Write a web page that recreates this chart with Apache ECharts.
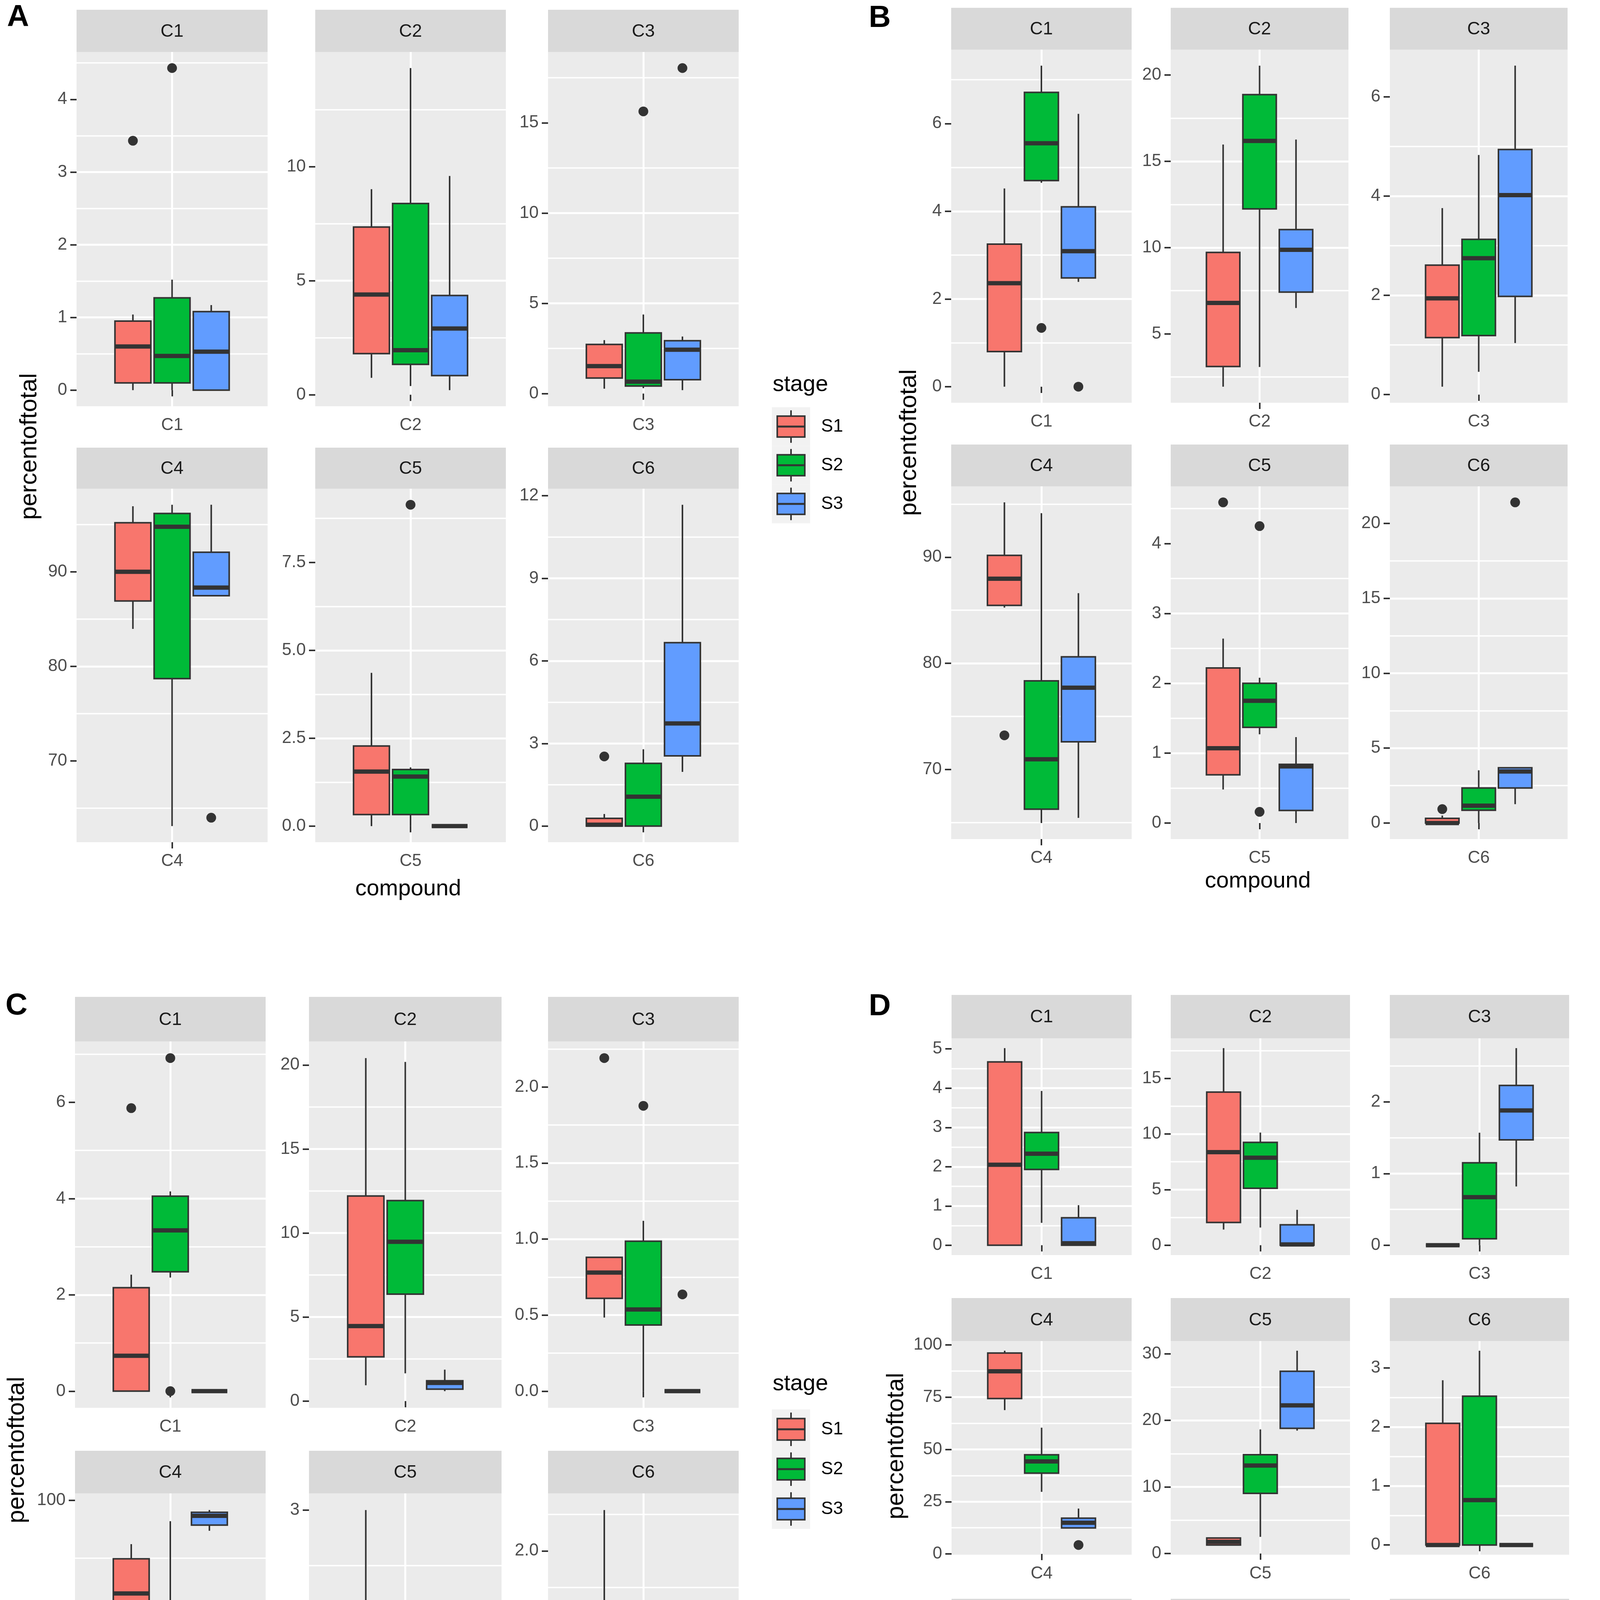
<!DOCTYPE html>
<html>
<head>
<meta charset="utf-8">
<title>percentoftotal by compound and stage</title>
<script src="https://cdn.jsdelivr.net/npm/echarts@6.0.0/dist/echarts.min.js"></script>
<style>
  html, body { margin: 0; padding: 0; background: #ffffff; }
  #chart { width: 4318px; height: 4929px; }
</style>
</head>
<body>
<div id="chart"></div>
<script>
var stages = ['S1', 'S2', 'S3'];

// per compound: one [low whisker, q1, median, q3, high whisker] per stage (S1, S2, S3)
var compoundsA = ['C1', 'C2', 'C3', 'C4', 'C5', 'C6'];
var boxesA = [
  [[0, 0.10, 0.60, 0.95, 1.04], [0, 0.10, 0.47, 1.27, 1.52], [0, 0, 0.53, 1.08, 1.17]],
  [[0.74, 1.80, 4.39, 7.35, 9.01], [0.38, 1.33, 1.95, 8.38, 14.32], [0.20, 0.84, 2.90, 4.35, 9.59]],
  [[0.27, 0.86, 1.52, 2.72, 2.96], [0.30, 0.42, 0.66, 3.36, 4.38], [0.19, 0.77, 2.43, 2.93, 3.16]],
  [[83.96, 86.91, 90.0, 95.19, 96.93], [63.1, 78.7, 94.76, 96.17, 97.09], [87.47, 87.47, 88.33, 92.07, 97.09]],
  [[0, 0.33, 1.55, 2.28, 4.36], [0, 0.33, 1.41, 1.61, 1.67], [0, 0, 0, 0, 0]],
  [[0, 0, 0.05, 0.28, 0.44], [0, 0, 1.07, 2.28, 2.79], [1.97, 2.55, 3.73, 6.66, 11.67]]
];
// [stage index, value]
var outliersA = [
  [[0, 3.43], [1, 4.43]],
  [],
  [[1, 15.63], [2, 18.03]],
  [[2, 63.99]],
  [[1, 9.14]],
  [[0, 2.53]]
];
var ticksA = [
  ['0', '1', '2', '3', '4'],
  ['0', '5', '10'],
  ['0', '5', '10', '15'],
  ['70', '80', '90'],
  ['0.0', '2.5', '5.0', '7.5'],
  ['0', '3', '6', '9', '12']
];

var compoundsB = ['C1', 'C2', 'C3', 'C4', 'C5', 'C6'];
var boxesB = [
  [[0, 0.80, 2.36, 3.25, 4.52], [4.65, 4.70, 5.55, 6.71, 7.32], [2.39, 2.48, 3.09, 4.10, 6.22]],
  [[1.94, 3.11, 6.79, 9.72, 15.97], [3.08, 12.24, 16.18, 18.86, 20.54], [6.50, 7.42, 9.87, 11.04, 16.26]],
  [[0.16, 1.15, 1.94, 2.61, 3.76], [0.46, 1.19, 2.75, 3.13, 4.83], [1.04, 1.98, 4.02, 4.94, 6.63]],
  [[85.25, 85.46, 87.97, 90.17, 95.16], [64.96, 66.26, 70.96, 78.35, 94.14], [65.45, 72.61, 77.71, 80.61, 86.61]],
  [[0.48, 0.69, 1.07, 2.22, 2.64], [1.27, 1.37, 1.75, 2.00, 2.08], [0, 0.18, 0.81, 0.84, 1.23]],
  [[0, 0, 0, 0.31, 0.50], [0, 0.85, 1.16, 2.34, 3.52], [1.26, 2.34, 3.44, 3.69, 3.69]]
];
var outliersB = [
  [[1, 1.34], [2, 0]],
  [],
  [],
  [[0, 73.22]],
  [[0, 4.59], [1, 4.25], [1, 0.16]],
  [[0, 0.93], [2, 21.41]]
];
var ticksB = [
  ['0', '2', '4', '6'],
  ['5', '10', '15', '20'],
  ['0', '2', '4', '6'],
  ['70', '80', '90'],
  ['0', '1', '2', '3', '4'],
  ['0', '5', '10', '15', '20']
];

var compoundsC = ['C1', 'C2', 'C3', 'C4', 'C5', 'C6'];
var boxesC = [
  [[0, 0, 0.735, 2.15, 2.42], [2.36, 2.48, 3.34, 4.05, 4.15], [0, 0, 0, 0, 0]],
  [[0.94, 2.63, 4.46, 12.20, 20.41], [1.65, 6.36, 9.48, 11.93, 20.18], [0.59, 0.71, 1.08, 1.21, 1.87]],
  [[0.484, 0.61, 0.78, 0.88, 0.88], [0, 0.435, 0.537, 0.986, 1.12], [0, 0, 0, 0, 0]],
  [[72.54, 80.70, 91.93, 94.94, 96.21], [70.28, 82.44, 85.62, 90.52, 98.2], [97.37, 97.86, 98.67, 98.97, 99.17]],
  [[0, 0.362, 1.524, 1.921, 3.0], [0, 0, 0.124, 0.512, 0.679], [0, 0, 0, 0, 0]],
  [[0, 0, 0, 1.051, 2.28], [0, 0, 0, 0.459, 1.115], [0.175, 0.28, 0.428, 0.721, 0.877]]
];
var outliersC = [
  [[0, 5.88], [1, 6.92], [1, 0]],
  [],
  [[0, 2.19], [1, 1.876], [2, 0.636]],
  [],
  [],
  []
];
var ticksC = [
  ['0', '2', '4', '6'],
  ['0', '5', '10', '15', '20'],
  ['0.0', '0.5', '1.0', '1.5', '2.0'],
  ['70', '80', '90', '100'],
  ['0', '1', '2', '3'],
  ['0.0', '0.5', '1.0', '1.5', '2.0']
];

var compoundsD = ['C1', 'C2', 'C3', 'C4', 'C5', 'C6', 'C7', 'C8', 'C9'];
var boxesD = [
  [[0, 0, 2.05, 4.67, 5.02], [0.57, 1.93, 2.33, 2.87, 3.93], [0, 0, 0.05, 0.70, 1.02]],
  [[1.41, 2.05, 8.37, 13.77, 17.72], [1.59, 5.12, 7.87, 9.25, 10.13], [0, 0, 0.07, 1.84, 3.18]],
  [[0, 0, 0, 0, 0], [0, 0.09, 0.67, 1.15, 1.57], [0.82, 1.47, 1.88, 2.23, 2.75]],
  [[68.8, 74.35, 87.36, 96.1, 97.2], [29.7, 38.66, 44.24, 47.4, 60.4], [12.45, 12.45, 14.9, 17.1, 21.7]],
  [[1.28, 1.28, 1.75, 2.33, 2.33], [2.5, 9.03, 13.22, 14.85, 18.64], [18.46, 18.81, 22.25, 27.37, 30.46]],
  [[0, 0, 0, 2.06, 2.79], [0, 0, 0.76, 2.52, 3.29], [0, 0, 0, 0, 0]],
  [[0, 0, 0, 0, 0], [15.7, 18.39, 21.76, 22.95, 23.58], [23.73, 26.27, 27.05, 34.97, 43.1]],
  [[0, 0, 0, 1.1, 1.93], [1.93, 5.31, 7.87, 10.77, 17.34], [10.14, 14.22, 18.2, 24.33, 30.9]],
  [[0, 0, 0, 0, 0], [0, 1.96, 4.47, 6.65, 6.97], [5.63, 7.5, 8.9, 10.16, 13.27]]
];
var outliersD = [
  [],
  [],
  [],
  [[2, 4.28]],
  [],
  [],
  [[0, 5.8]],
  [],
  []
];
var ticksD = [
  ['0', '1', '2', '3', '4', '5'],
  ['0', '5', '10', '15'],
  ['0', '1', '2'],
  ['0', '25', '50', '75', '100'],
  ['0', '10', '20', '30'],
  ['0', '1', '2', '3'],
  ['0', '10', '20', '30', '40'],
  ['0', '10', '20', '30'],
  ['0', '5', '10']
];

var stageColors = ['#F8766D', '#00BA38', '#619CFF'];
var dodge = [-0.205, 0, 0.205];
var boxFrac = 0.188;
var fontFam = '"Liberation Sans", Arial, sans-serif';

// facet layout, pixels
var panels = [
  {
    letter: 'A', letterPos: [18, 6],
    compounds: compoundsA, boxes: boxesA, outliers: outliersA, ticks: ticksA,
    cols: [[196, 685], [807, 1295], [1403, 1891]],
    rows: [[25, 133, 1040], [1146, 1251, 2156]],
    yTitle: [76, 1143], xTitle: [1045, 2276],
    legend: { x: 1976, w: 98, h: 99, title: 985, keys: [1092, 1191, 1290], label: 2102 }
  },
  {
    letter: 'B', letterPos: [2224, 8],
    compounds: compoundsB, boxes: boxesB, outliers: outliersB, ticks: ticksB,
    cols: [[2435, 2897], [2997, 3452], [3558, 4013]],
    rows: [[20, 127, 1031], [1138, 1245, 2148]],
    yTitle: [2328, 1133], xTitle: [3220, 2256],
    legend: { x: 4136, w: 92, h: 96, title: 989, keys: [1088, 1184, 1280], label: 4256 }
  },
  {
    letter: 'C', letterPos: [14, 2536],
    compounds: compoundsC, boxes: boxesC, outliers: outliersC, ticks: ticksC,
    cols: [[192, 680], [791, 1284], [1403, 1891]],
    rows: [[2552, 2666, 3604], [3714, 3823, 4761]],
    yTitle: [44, 3712], xTitle: [1045, 4886],
    legend: { x: 1976, w: 98, h: 102, title: 3543, keys: [3659, 3761, 3863], label: 2102 }
  },
  {
    letter: 'D', letterPos: [2224, 2538],
    compounds: compoundsD, boxes: boxesD, outliers: outliersD, ticks: ticksD,
    cols: [[2436, 2897], [2997, 3456], [3558, 4017]],
    rows: [[2547, 2658, 3213], [3323, 3433, 3980], [4093, 4203, 4757]],
    yTitle: [2295, 3702], xTitle: [3227, 4882],
    legend: { x: 4096, w: 92, h: 102, title: 3539, keys: [3652, 3754, 3857], label: 4213 }
  }
];

function centerOnly(index) {
  return index === 1;
}

function stageX(api, s) {
  var left = api.coord([0, 0])[0];
  var right = api.coord([2, 0])[0];
  var w = right - left;
  return { xc: (left + right) / 2 + dodge[s] * w, hw: boxFrac * w / 2 };
}

function renderBox(params, api) {
  var s = api.value(6);
  var p = stageX(api, s);
  var y = [];
  for (var k = 1; k <= 5; k++) {
    y.push(api.coord([1, api.value(k)])[1]);
  }
  var line = { stroke: '#333333', lineWidth: 4 };
  return {
    type: 'group',
    children: [
      { type: 'line', shape: { x1: p.xc, y1: y[3], x2: p.xc, y2: y[4] }, style: line },
      { type: 'line', shape: { x1: p.xc, y1: y[1], x2: p.xc, y2: y[0] }, style: line },
      {
        type: 'rect',
        shape: { x: p.xc - p.hw, y: y[3], width: p.hw * 2, height: y[1] - y[3] },
        style: { fill: stageColors[s], stroke: '#333333', lineWidth: 4 }
      },
      {
        type: 'line',
        shape: { x1: p.xc - p.hw, y1: y[2], x2: p.xc + p.hw, y2: y[2] },
        style: { stroke: '#333333', lineWidth: 11 }
      }
    ]
  };
}

function renderOutlier(params, api) {
  var p = stageX(api, api.value(2));
  var pt = api.coord([1, api.value(1)]);
  return {
    type: 'circle',
    shape: { cx: p.xc, cy: pt[1], r: 12.5 },
    style: { fill: '#333333' }
  };
}

function text(str, x, y, size, color, align, extra) {
  var el = {
    type: 'text', x: x, y: y, silent: true,
    style: {
      text: str, font: size + 'px ' + fontFam, fill: color,
      textAlign: align, align: align,
      textVerticalAlign: 'middle', verticalAlign: 'middle'
    }
  };
  if (extra) {
    for (var k in extra) el[k] = extra[k];
  }
  return el;
}

var grids = [], xAxes = [], yAxes = [], series = [], graphics = [];

panels.forEach(function (p) {
  graphics.push({
    type: 'text', x: p.letterPos[0], y: p.letterPos[1], silent: true,
    style: { text: p.letter, font: 'bold 78px ' + fontFam, fill: '#000000', textVerticalAlign: 'top', verticalAlign: 'top' }
  });

  p.compounds.forEach(function (name, i) {
    var col = p.cols[i % 3];
    var row = p.rows[Math.floor(i / 3)];
    var g = grids.length;

    var labels = p.ticks[i];
    var tickVals = labels.map(Number);
    var step = tickVals[1] - tickVals[0];

    var all = [];
    p.boxes[i].forEach(function (b) { all = all.concat(b); });
    p.outliers[i].forEach(function (o) { all.push(o[1]); });
    var dmin = Math.min.apply(null, all);
    var dmax = Math.max.apply(null, all);
    var pad = (dmax - dmin) * 0.05;

    grids.push({
      left: col[0], top: row[1], width: col[1] - col[0], height: row[2] - row[1],
      show: true, backgroundColor: '#EBEBEB', borderWidth: 0,
      containLabel: false, outerBoundsMode: 'none'
    });

    xAxes.push({
      gridIndex: g, type: 'category', data: ['<', name, '>'], boundaryGap: false,
      axisLine: { show: false },
      axisTick: { show: true, interval: centerOnly, length: 16, lineStyle: { color: '#333333', width: 4 } },
      axisLabel: { interval: centerOnly, color: '#4D4D4D', fontSize: 44, fontFamily: fontFam, margin: 27 },
      splitLine: { show: true, interval: centerOnly, lineStyle: { color: '#ffffff', width: 5 } }
    });

    yAxes.push({
      gridIndex: g, type: 'value', min: dmin - pad, max: dmax + pad,
      minInterval: step, maxInterval: step,
      axisLine: { show: false },
      axisTick: { show: true, length: 16, lineStyle: { color: '#333333', width: 4 }, customValues: tickVals },
      axisLabel: {
        color: '#4D4D4D', fontSize: 44, fontFamily: fontFam, margin: 24,
        customValues: tickVals,
        formatter: function (v) {
          for (var k = 0; k < tickVals.length; k++) {
            if (Math.abs(tickVals[k] - v) < 1e-9) return labels[k];
          }
          return '';
        }
      },
      splitLine: { show: true, showMinLine: false, showMaxLine: false, lineStyle: { color: '#ffffff', width: 5 } },
      minorTick: { show: false, splitNumber: 2 },
      minorSplitLine: { show: true, lineStyle: { color: '#ffffff', width: 3.5 } }
    });

    series.push({
      type: 'custom', name: p.letter + name, xAxisIndex: g, yAxisIndex: g,
      renderItem: renderBox, silent: true,
      encode: { x: 0, y: [1, 2, 3, 4, 5] },
      data: p.boxes[i].map(function (b, s) { return [1, b[0], b[1], b[2], b[3], b[4], s]; })
    });

    if (p.outliers[i].length) {
      series.push({
        type: 'custom', name: p.letter + name + ' outliers', xAxisIndex: g, yAxisIndex: g,
        renderItem: renderOutlier, silent: true,
        encode: { x: 0, y: 1 },
        data: p.outliers[i].map(function (o) { return [1, o[1], o[0]]; })
      });
    }

    // facet strip
    graphics.push({
      type: 'rect', silent: true,
      shape: { x: col[0], y: row[0], width: col[1] - col[0], height: row[1] - row[0] },
      style: { fill: '#D9D9D9' }
    });
    graphics.push(text(name, (col[0] + col[1]) / 2, (row[0] + row[1]) / 2 + 2, 46, '#1A1A1A', 'center'));
  });

  graphics.push(text('percentoftotal', p.yTitle[0], p.yTitle[1], 62, '#000000', 'center', { rotation: Math.PI / 2 }));
  graphics.push(text('compound', p.xTitle[0], p.xTitle[1], 58, '#000000', 'center'));

  // legend
  var lg = p.legend;
  graphics.push(text('stage', lg.x + 2, lg.title, 58, '#000000', 'left'));
  stages.forEach(function (st, s) {
    var cy = lg.keys[s];
    var cx = lg.x + lg.w / 2;
    var bw = lg.w * 0.72;
    graphics.push({
      type: 'rect', silent: true,
      shape: { x: lg.x, y: cy - lg.h / 2, width: lg.w, height: lg.h },
      style: { fill: '#F2F2F2' }
    });
    graphics.push({
      type: 'line', silent: true,
      shape: { x1: cx, y1: cy - lg.h * 0.42, x2: cx, y2: cy + lg.h * 0.42 },
      style: { stroke: '#333333', lineWidth: 4 }
    });
    graphics.push({
      type: 'rect', silent: true,
      shape: { x: cx - bw / 2, y: cy - lg.h * 0.27, width: bw, height: lg.h * 0.54 },
      style: { fill: stageColors[s], stroke: '#333333', lineWidth: 4 }
    });
    graphics.push({
      type: 'line', silent: true,
      shape: { x1: cx - bw / 2, y1: cy, x2: cx + bw / 2, y2: cy },
      style: { stroke: '#333333', lineWidth: 5 }
    });
    graphics.push(text(st, lg.label, cy, 46, '#000000', 'left'));
  });
});

var myChart = echarts.init(document.getElementById('chart'), null, { renderer: 'canvas' });
myChart.setOption({
  backgroundColor: '#ffffff',
  animation: false,
  grid: grids,
  xAxis: xAxes,
  yAxis: yAxes,
  series: series,
  graphic: { elements: graphics }
});
</script>
</body>
</html>
